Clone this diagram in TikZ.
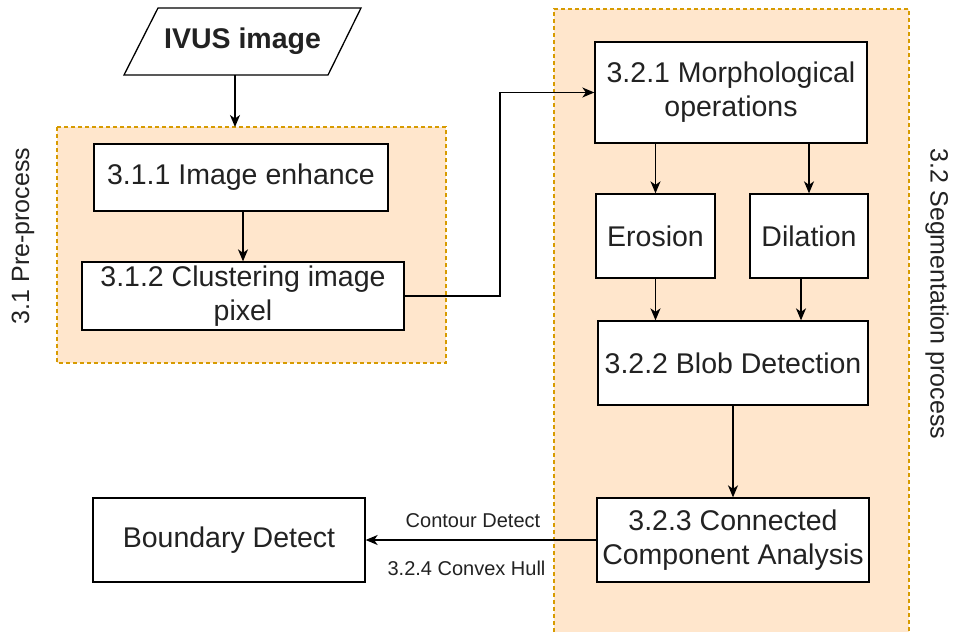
\documentclass[tikz,border=0pt]{standalone}
\usepackage{fontspec}
\setmainfont{Liberation Sans}
\usetikzlibrary{arrows.meta,calc}
\definecolor{grpfill}{HTML}{FFE6CC}
\definecolor{grpline}{HTML}{D79B00}
\definecolor{txt}{HTML}{222222}
\begin{document}
\begin{tikzpicture}[x=1pt,y=-1pt,
  box/.style={draw=black, line width=1.3pt, fill=white, inner sep=0pt, align=center, text=txt, font=\fontsize{28.5}{34}\selectfont},
  arr/.style={-{Stealth[length=12pt,width=10pt,inset=3.5pt]}, line width=1.4pt, draw=black},
  grpbox/.style={draw=grpline, line width=1.3pt, dash pattern=on 4pt off 3pt},
  lbl/.style={text=txt, inner sep=0pt, font=\fontsize{20}{24}\selectfont},
  grplbl/.style={text=txt, inner sep=0pt, font=\fontsize{25}{30}\selectfont}]
\useasboundingbox (0,0) rectangle (954,632);
\fill[white] (0,0) rectangle (954,632);
% groups
\fill[grpfill] (554,9) rectangle (909,632);
\draw[grpbox] (554,632) -- (554,9) -- (909,9) -- (909,632);
\fill[grpfill] (57,127) rectangle (446,363);
\draw[grpbox] (57,127) rectangle (446,363);
\node[grplbl, rotate=90] (prelbl) at (23,236) {3.1 Pre-process};
\node[grplbl, rotate=-90] (seglbl) at (937,294) {3.2 Segmentation process};
% input parallelogram
\draw[line width=1.3pt, fill=white] (124,75) -- (158,8) -- (361,8) -- (328,75) -- cycle;
\node[text=txt, inner sep=0pt, font=\bfseries\fontsize{28.5}{34}\selectfont] (ivus) at (242.5,41.5) {IVUS image};
\coordinate (ivusout) at (235,75);
\coordinate (prein) at (235,127);
% boxes
\node[box, minimum width=294pt, minimum height=67pt] (enh) at (241,177.5) {3.1.1 Image enhance};
\node[box, minimum width=322pt, minimum height=68pt] (clu) at (243,296) {3.1.2 Clustering image\\pixel};
\node[box, minimum width=272pt, minimum height=101pt] (mor) at (731,92.5) {3.2.1 Morphological\\operations};
\node[box, minimum width=119pt, minimum height=84pt] (ero) at (655.5,236) {Erosion};
\node[box, minimum width=118pt, minimum height=84pt] (dil) at (809,236) {Dilation};
\node[box, minimum width=270pt, minimum height=84pt] (blob) at (733,363) {3.2.2 Blob Detection};
\node[box, minimum width=272pt, minimum height=84pt] (con) at (733,540) {3.2.3 Connected\\Component Analysis};
\node[box, minimum width=272pt, minimum height=84pt] (bnd) at (229,540) {Boundary Detect};
% connectors
\draw[arr] (ivusout) -- (prein);
\draw[arr] (enh.south -| clu.north) -- (clu.north);
\coordinate (bend) at (500,0);
\draw[arr] (clu.east) -- (clu.east -| bend) |- (mor.west);
\draw[arr] (mor.south -| ero.north) -- (ero.north);
\draw[arr] (mor.south -| dil.north) -- (dil.north);
\draw[arr] (ero.south) -- (ero.south |- blob.north);
\coordinate (dilout) at (801,278);
\draw[arr] (dilout) -- (dilout |- blob.north);
\draw[arr] (blob.south) -- (con.north);
\draw[arr] (con.west) -- (bnd.east);
\node[lbl] (l1) at (473,521) {Contour Detect};
\node[lbl] (l2) at (466.5,568) {3.2.4 Convex Hull};
\end{tikzpicture}
\end{document}
